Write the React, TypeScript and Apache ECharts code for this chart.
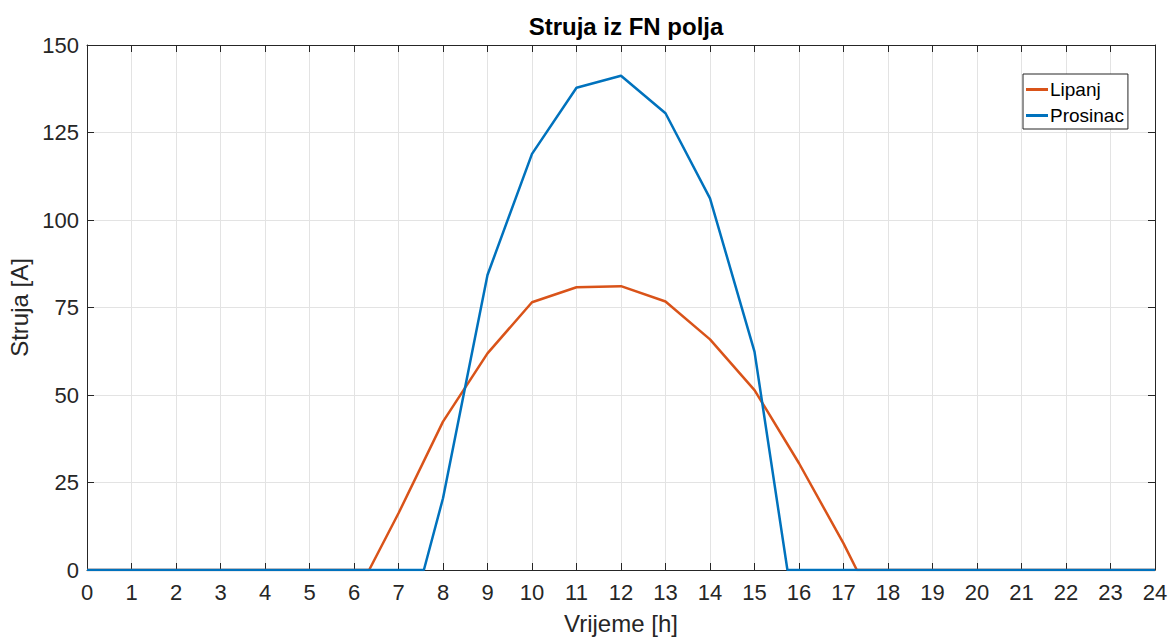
import React, { useEffect, useRef } from "react";
import * as echarts from "echarts";

const hoursLipanj = [0, 1, 2, 3, 4, 5, 6, 6.34, 7, 8, 9, 10, 11, 12, 13, 14, 15, 16, 17, 17.3, 18, 19, 20, 21, 22, 23, 24];
const valuesLipanj = [0, 0, 0, 0, 0, 0, 0, 0, 16.2, 42.4, 61.9, 76.5, 80.8, 81.1, 76.7, 65.9, 51.4, 30.5, 7.6, 0, 0, 0, 0, 0, 0, 0, 0];
const hoursProsinac = [0, 1, 2, 3, 4, 5, 6, 7, 7.57, 8, 9, 10, 11, 12, 13, 14, 15, 15.74, 16, 17, 18, 19, 20, 21, 22, 23, 24];
const valuesProsinac = [0, 0, 0, 0, 0, 0, 0, 0, 0, 20.5, 84.3, 118.9, 137.8, 141.2, 130.5, 106.2, 62.4, 0, 0, 0, 0, 0, 0, 0, 0, 0, 0];
const seriesNames = ["Lipanj", "Prosinac"];
const titleText = "Struja iz FN polja";
const xName = "Vrijeme [h]";
const yName = "Struja [A]";

const FONT = "Liberation Sans, Arial, sans-serif";
const AX = "#262626";

export default function App() {
  const ref = useRef<HTMLDivElement>(null);
  useEffect(() => {
    document.body.style.margin = "0";
    const chart = echarts.init(ref.current!, undefined, { renderer: "svg" });
    const pair = (xs: number[], ys: number[]) => xs.map((x, i) => [x, ys[i]]);
    const xBase = {
      type: "value",
      min: 0,
      max: 24,
      interval: 1,
      axisLine: { show: true, onZero: false, lineStyle: { color: AX, width: 1 } },
      axisTick: { show: true, inside: true, length: 7, lineStyle: { color: AX } },
    };
    const yBase = {
      type: "value",
      min: 0,
      max: 150,
      interval: 25,
      axisLine: { show: true, onZero: false, lineStyle: { color: AX, width: 1 } },
      axisTick: { show: true, inside: true, length: 7, lineStyle: { color: AX } },
    };
    chart.setOption({
      animation: false,
      textStyle: { fontFamily: FONT },
      title: {
        text: titleText,
        left: 621,
        textAlign: "center",
        top: 9,
        textStyle: { fontFamily: FONT, fontSize: 24, fontWeight: "bold", color: "#000" },
      },
      grid: { left: 87, right: 17, top: 45, bottom: 67, containLabel: false, outerBoundsMode: "none" },
      legend: {
        data: seriesNames,
        orient: "vertical",
        left: 1023,
        top: 74,
        padding: [6, 4, 4, 3],
        itemGap: 7,
        itemWidth: 22,
        itemHeight: 3,
        icon: "rect",
        borderColor: "#262626",
        borderWidth: 1,
        borderRadius: 0,
        backgroundColor: "#fff",
        textStyle: { fontFamily: FONT, fontSize: 19, lineHeight: 19, color: "#000", padding: [0, 0, 0, -3] },
      },
      xAxis: [
        {
          ...xBase,
          position: "bottom",
          name: xName,
          nameLocation: "middle",
          nameGap: 41,
          nameTextStyle: { fontFamily: FONT, fontSize: 24, color: AX },
          axisLabel: { fontFamily: FONT, fontSize: 22, color: AX, margin: 11 },
          splitLine: { show: true, lineStyle: { color: "#e3e3e3", width: 1 } },
        },
        {
          ...xBase,
          position: "top",
          axisLabel: { show: false },
          splitLine: { show: false },
        },
      ],
      yAxis: [
        {
          ...yBase,
          position: "left",
          name: yName,
          nameLocation: "middle",
          nameGap: 47,
          nameTextStyle: { fontFamily: FONT, fontSize: 24, color: AX },
          axisLabel: { fontFamily: FONT, fontSize: 22, color: AX, margin: 8 },
          splitLine: { show: true, lineStyle: { color: "#e3e3e3", width: 1 } },
        },
        {
          ...yBase,
          position: "right",
          axisLabel: { show: false },
          splitLine: { show: false },
        },
      ],
      series: [
        {
          name: seriesNames[0],
          type: "line",
          data: pair(hoursLipanj, valuesLipanj),
          symbol: "none",
          lineStyle: { color: "#D95319", width: 2.5 },
          itemStyle: { color: "#D95319" },
          z: 2,
        },
        {
          name: seriesNames[1],
          type: "line",
          data: pair(hoursProsinac, valuesProsinac),
          symbol: "none",
          lineStyle: { color: "#0072BD", width: 2.5 },
          itemStyle: { color: "#0072BD" },
          z: 3,
        },
      ],
    });
    return () => chart.dispose();
  }, []);
  return <div ref={ref} style={{ width: 1172, height: 637 }} />;
}
